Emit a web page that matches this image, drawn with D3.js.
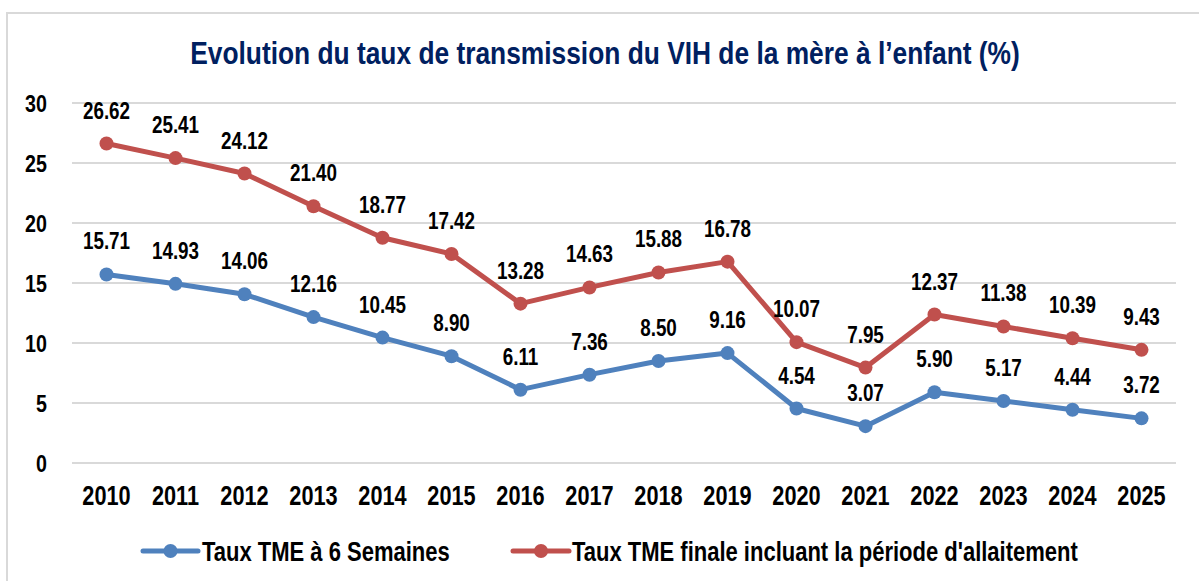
<!DOCTYPE html>
<html>
<head>
<meta charset="utf-8">
<script src="https://cdn.jsdelivr.net/npm/d3@7"></script>
<style>
  html, body { margin: 0; padding: 0; background: #fff; }
  svg { display: block; }
  text { font-family: "Liberation Sans", Arial, sans-serif; font-weight: bold; }
</style>
</head>
<body>
<svg id="chart" width="1199" height="581"></svg>
<script>
const years = ["2010","2011","2012","2013","2014","2015","2016","2017","2018","2019","2020","2021","2022","2023","2024","2025"];
const tme6Semaines = [15.71,14.93,14.06,12.16,10.45,8.90,6.11,7.36,8.50,9.16,4.54,3.07,5.90,5.17,4.44,3.72];
const tmeFinale = [26.62,25.41,24.12,21.40,18.77,17.42,13.28,14.63,15.88,16.78,10.07,7.95,12.37,11.38,10.39,9.43];
const yTicks = [0,5,10,15,20,25,30];
const seriesNames = ["Taux TME à 6 Semaines", "Taux TME finale incluant la période d'allaitement"];
const titleText = "Evolution du taux de transmission du VIH de la mère à l\u2019enfant (%)";

const colors = ["#4f81bd", "#c0504d"];
const svg = d3.select("#chart");

// chart frame
svg.append("rect").attr("x", 7).attr("y", 13).attr("width", 1210).attr("height", 600)
  .attr("fill", "#fff").attr("stroke", "#d9d9d9").attr("stroke-width", 2);

const x = d3.scalePoint().domain(years).range([72, 1176]).padding(0.5);
const y = d3.scaleLinear().domain([0, 30]).range([463, 103]);

function condText(g, tx, ty, sx, size, anchor, str, fill) {
  return g.append("text")
    .attr("transform", `translate(${tx},${ty}) scale(${sx},1)`)
    .attr("font-size", size)
    .attr("text-anchor", anchor)
    .attr("fill", fill || "#000")
    .text(str);
}

// title
condText(svg, 605, 64, 0.85, 31, "middle", titleText, "#002060");

// gridlines
svg.append("g").selectAll("line").data(yTicks).join("line")
  .attr("x1", 72).attr("x2", 1176)
  .attr("y1", d => y(d)).attr("y2", d => y(d))
  .attr("stroke", "#d9d9d9").attr("stroke-width", 2);

// y tick labels
const yl = svg.append("g");
yTicks.forEach(t => condText(yl, 47, y(t) + 8.5, 0.82, 24, "end", String(t)));

// x labels
const xl = svg.append("g");
years.forEach(yr => condText(xl, x(yr), 505, 0.79, 27.5, "middle", yr));

const line = d3.line().x((d, i) => x(years[i])).y(d => y(d));
[tme6Semaines, tmeFinale].forEach((vals, s) => {
  const g = svg.append("g");
  g.append("path").datum(vals).attr("d", line)
    .attr("fill", "none").attr("stroke", colors[s]).attr("stroke-width", 5)
    .attr("stroke-linejoin", "round");
  g.selectAll("circle").data(vals).join("circle")
    .attr("cx", (d, i) => x(years[i])).attr("cy", d => y(d))
    .attr("r", 7).attr("fill", colors[s]);
  vals.forEach((v, i) => condText(g, x(years[i]), y(v) - 25, 0.82, 23, "middle", v.toFixed(2)));
});

// legend
const legendItems = [
  { lx1: 143, lx2: 198, tx: 202 },
  { lx1: 513, lx2: 569, tx: 572 }
];
const lg = svg.append("g");
legendItems.forEach((it, s) => {
  const ly = 551;
  lg.append("line").attr("x1", it.lx1).attr("x2", it.lx2).attr("y1", ly).attr("y2", ly)
    .attr("stroke", colors[s]).attr("stroke-width", 5).attr("stroke-linecap", "round");
  lg.append("circle").attr("cx", (it.lx1 + it.lx2) / 2).attr("cy", ly).attr("r", 7).attr("fill", colors[s]);
  condText(lg, it.tx, 561, 0.8, 27.5, "start", seriesNames[s]);
});
</script>
</body>
</html>
